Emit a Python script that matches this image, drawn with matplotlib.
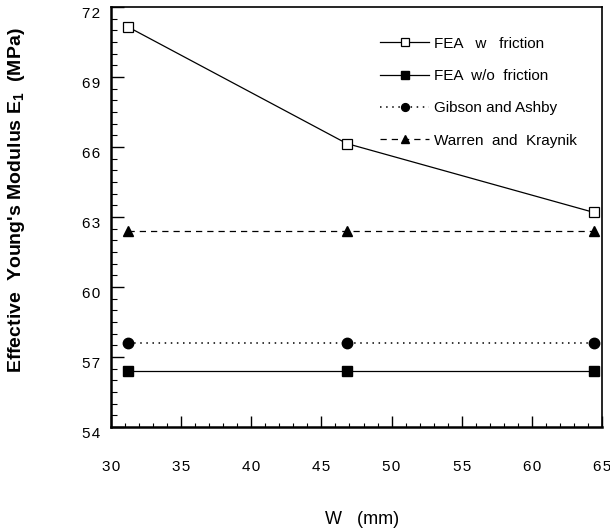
import matplotlib
matplotlib.use("Agg")
import matplotlib.pyplot as plt
from matplotlib.ticker import MultipleLocator, FuncFormatter
from matplotlib.transforms import ScaledTranslation

plt.rcParams['font.family'] = ['Liberation Sans', 'DejaVu Sans']

# Cell width W (mm)
w_mm = [31.2, 46.8, 64.4]

# Effective Young's modulus E1 (MPa)
fea_friction = [71.15, 66.15, 63.2]
fea_no_friction = [56.4, 56.4, 56.4]
gibson_ashby = [57.6, 57.6, 57.6]
warren_kraynik = [62.4, 62.4, 62.4]

series_labels = ["FEA   w   friction", "FEA  w/o  friction",
                 "Gibson and Ashby", "Warren  and  Kraynik"]

x_ticks = [30, 35, 40, 45, 50, 55, 60, 65]
y_ticks = [54, 57, 60, 63, 66, 69, 72]


def spaced(v, pos=None):
    # widen the digit spacing of tick labels
    return "\u200a".join(f"{v:g}")


fig = plt.figure(figsize=(6.10, 5.29), dpi=100)
ax = fig.add_axes([111 / 610, 1 - 427 / 529, 491 / 610, 420 / 529])

lw = 0.9
ax.plot(w_mm, fea_friction, '-', color='black', lw=lw, marker='s',
        markersize=7, markerfacecolor='white', markeredgewidth=0.9,
        label=series_labels[0])
ax.plot(w_mm, fea_no_friction, '-', color='black', lw=lw, marker='s',
        markersize=7, markerfacecolor='black', label=series_labels[1])
ax.plot(w_mm, gibson_ashby, ':', color='black', lw=1.1, marker='o',
        markersize=7.5, markerfacecolor='black', label=series_labels[2],
        dashes=(1, 3))
ax.plot(w_mm, warren_kraynik, '--', color='black', lw=lw, marker='^',
        markersize=7, markerfacecolor='black', label=series_labels[3],
        dashes=(5, 4))

ax.set_xlim(30, 65)
ax.set_ylim(54, 72)
ax.set_xticks(x_ticks)
ax.set_yticks(y_ticks)
ax.xaxis.set_minor_locator(MultipleLocator(1))
ax.yaxis.set_minor_locator(MultipleLocator(0.5))
ax.xaxis.set_major_formatter(FuncFormatter(spaced))
ax.yaxis.set_major_formatter(FuncFormatter(spaced))

ax.tick_params(axis='both', which='both', direction='in', top=False,
               right=False, labelsize=11)
ax.tick_params(axis='y', which='major', length=9, width=1.0, pad=8)
ax.tick_params(axis='y', which='minor', length=4, width=0.8)
ax.tick_params(axis='x', which='major', length=8, width=1.0, pad=24)
ax.tick_params(axis='x', which='minor', length=3, width=0.8)

# y tick labels sit slightly below their ticks
offset = ScaledTranslation(0, -6 / 100, fig.dpi_scale_trans)
for lab in ax.get_yticklabels():
    lab.set_transform(lab.get_transform() + offset)

for side in ['left', 'bottom']:
    ax.spines[side].set_linewidth(1.8)
for side in ['top', 'right']:
    ax.spines[side].set_linewidth(1.2)

ax.set_xlabel("W   (mm)", fontsize=13)
ax.xaxis.set_label_coords((362 - 111) / 491, -(511 - 427) / 420)
ax.set_ylabel("Effective  Young's Modulus E$_\\mathregular{1}$  (MPa)",
              fontsize=14, fontweight='bold')
ax.yaxis.set_label_coords((27 - 111) / 491, (427 - 200) / 420)

leg = ax.legend(loc='upper left', bbox_to_anchor=(0.52, 0.962),
                frameon=False, fontsize=11, handlelength=3.2,
                handletextpad=0.3, labelspacing=1.2, markerscale=0.75)

fig.savefig("out.png", dpi=100)
